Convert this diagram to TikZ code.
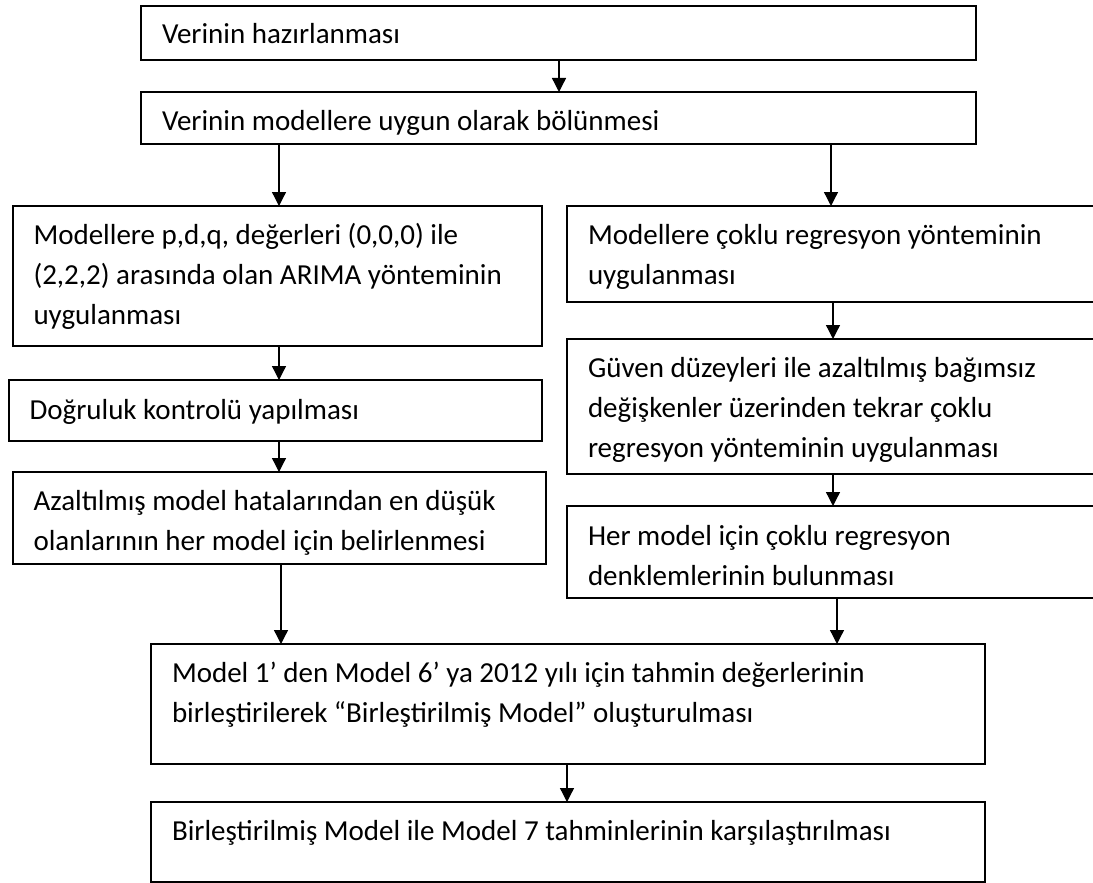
\documentclass[tikz,border=0pt]{standalone}
\usepackage{fontspec}
\setmainfont{Carlito}
\usetikzlibrary{arrows.meta}
\tikzset{
  box/.style={draw=black, line width=2pt, rectangle, inner sep=0pt, outer sep=0pt, anchor=north west},
  txt/.style={anchor=north west, inner sep=0pt, outer sep=0pt, align=left, font=\fontsize{29}{40}\selectfont},
  arr/.style={draw=black, line width=1.3pt, -{Triangle[width=14pt,length=14pt]}}
}
\begin{document}
\begin{tikzpicture}[x=1pt,y=-1pt]
\useasboundingbox (0,0) rectangle (1093,883);
\clip (0,0) rectangle (1093,883);
% boxes
\node[box, minimum width=835pt, minimum height=54.3pt] (b1) at (140.5,5.7) {};
\node[box, minimum width=835pt, minimum height=52pt] (b2) at (140.5,92) {};
\node[box, minimum width=529.5pt, minimum height=140pt] (b3) at (12.5,206) {};
\node[box, minimum width=543pt, minimum height=95.5pt] (b4) at (567,206) {};
\node[box, minimum width=533.5pt, minimum height=61pt] (b5) at (8.5,380) {};
\node[box, minimum width=533.5pt, minimum height=92pt] (b6) at (12.5,472) {};
\node[box, minimum width=543pt, minimum height=135pt] (b7) at (567,339) {};
\node[box, minimum width=543pt, minimum height=92pt] (b8) at (567,506) {};
\node[box, minimum width=833.5pt, minimum height=120pt] (b9) at (151,644) {};
\node[box, minimum width=833.5pt, minimum height=80pt] (b10) at (151,802) {};
% texts
\node[txt] (t1) at (162,16) {\strut Verinin hazırlanması};
\node[txt] (t2) at (162,102) {\strut Verinin modellere uygun olarak bölünmesi};
\node[txt] (t3) at (33.5,216) {\strut Modellere p,d,q, değerleri (0,0,0) ile\\(2,2,2) arasında olan ARIMA yönteminin\\uygulanması};
\node[txt] (t4) at (588,216) {\strut Modellere çoklu regresyon yönteminin\\uygulanması};
\node[txt] (t5) at (29.5,391) {\strut Doğruluk kontrolü yapılması};
\node[txt] (t6) at (33.5,482.5) {\strut Azaltılmış model hatalarından en düşük\\olanlarının her model için belirlenmesi};
\node[txt] (t7) at (588,349) {\strut Güven düzeyleri ile azaltılmış bağımsız\\değişkenler üzerinden tekrar çoklu\\regresyon yönteminin uygulanması};
\node[txt] (t8) at (588,517) {\strut Her model için çoklu regresyon\\denklemlerinin bulunması};
\node[txt] (t9) at (172,654) {\strut Model 1’ den Model 6’ ya 2012 yılı için tahmin değerlerinin\\birleştirilerek “Birleştirilmiş Model” oluşturulması};
\node[txt] (t10) at (172,812) {\strut Birleştirilmiş Model ile Model 7 tahminlerinin karşılaştırılması};
% arrow x references
\coordinate (xa) at (559,0);
\coordinate (xl) at (279,0);
\coordinate (xr) at (831,0);
\coordinate (xr2) at (833,0);
\coordinate (xl2) at (281,0);
\coordinate (xr3) at (837,0);
\coordinate (xm) at (567,0);
% arrows
\draw[arr] (b1.south -| xa) -- (b2.north -| xa);
\draw[arr] (b2.south -| xl) -- (b3.north -| xl);
\draw[arr] (b2.south -| xr) -- (b4.north -| xr);
\draw[arr] (b3.south -| xl) -- (b5.north -| xl);
\draw[arr] (b5.south -| xl) -- (b6.north -| xl);
\draw[arr] (b4.south -| xr2) -- (b7.north -| xr2);
\draw[arr] (b7.south -| xr2) -- (b8.north -| xr2);
\draw[arr] (b6.south -| xl2) -- (b9.north -| xl2);
\draw[arr] (b8.south -| xr3) -- (b9.north -| xr3);
\draw[arr] (b9.south -| xm) -- (b10.north -| xm);
\end{tikzpicture}
\end{document}
